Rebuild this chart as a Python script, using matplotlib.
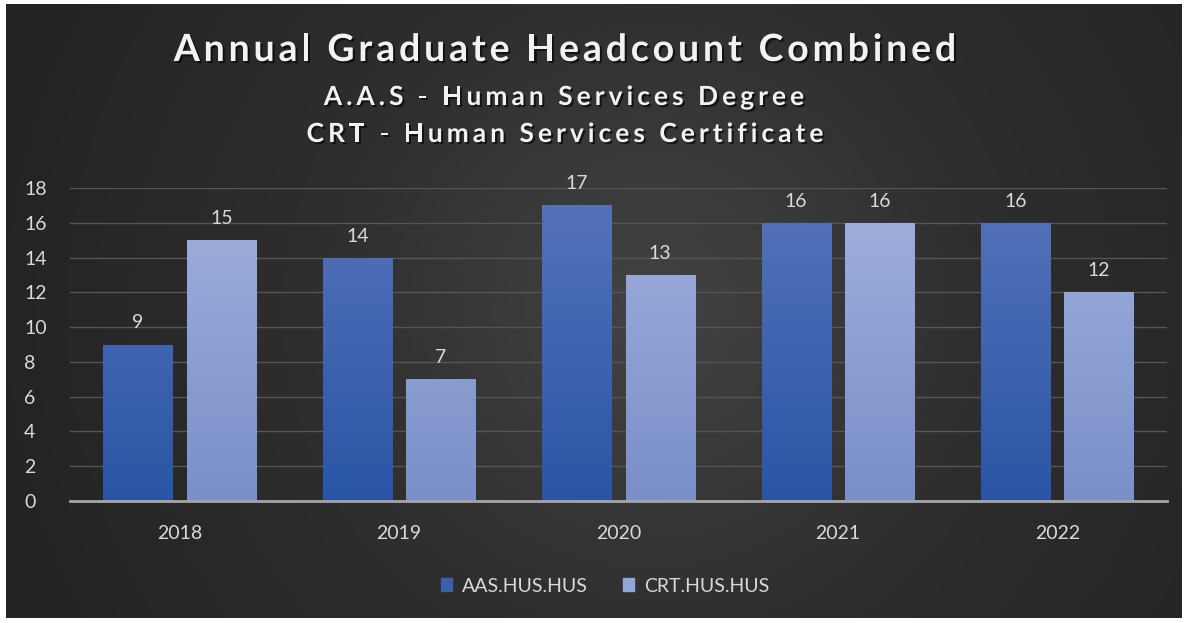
import numpy as np
import matplotlib.pyplot as plt
import matplotlib.patheffects as pe
from matplotlib.colors import LinearSegmentedColormap
from matplotlib.font_manager import FontProperties
from matplotlib.textpath import TextToPath

years = ['2018', '2019', '2020', '2021', '2022']
aas = [9, 14, 17, 16, 16]
crt = [15, 7, 13, 16, 12]
series_names = ['AAS.HUS.HUS', 'CRT.HUS.HUS']

txt = '#d9d9d9'
plt.rcParams['font.family'] = ['Lato', 'DejaVu Sans']

fig = plt.figure(figsize=(11.88, 6.23), dpi=100)
fig.patch.set_facecolor('white')

# radial gradient background
bg = fig.add_axes([6 / 1188, 5 / 623, 1176 / 1188, 614 / 623])
yy, xx = np.mgrid[0:1:300j, 0:1:600j]
d = np.sqrt(((xx - 0.55) * 1.9) ** 2 + ((yy - 0.5) * 1.0) ** 2)
bg_cmap = LinearSegmentedColormap.from_list('bg', ['#434343', '#2e2e2e', '#232323'])
bg.imshow(d, cmap=bg_cmap, aspect='auto', extent=[0, 1, 0, 1], vmin=0, vmax=1.1)
bg.set_axis_off()

ax = fig.add_axes([70 / 1188, 1 - 501 / 623, 1097 / 1188, 313 / 623])
ax.patch.set_alpha(0)

x = np.arange(len(years))
w = 0.315
off = 0.19

def grad_bars(xs, vals, top, bottom):
    cmap = LinearSegmentedColormap.from_list('b', [bottom, top])
    grad = np.linspace(0, 1, 100).reshape(-1, 1)
    bars = ax.bar(xs, vals, w, color='none', zorder=3)
    for b in bars:
        x0 = b.get_x()
        im = ax.imshow(grad, cmap=cmap, aspect='auto', origin='lower',
                       extent=[x0, x0 + b.get_width(), 0, 18], zorder=3)
        im.set_clip_path(b)
    return bars

grad_bars(x - off, aas, '#5673ba', '#2a55a6')
grad_bars(x + off, crt, '#a1b1de', '#7a8fc9')

for xs, vals in [(x - off, aas), (x + off, crt)]:
    for xi, v in zip(xs, vals):
        ax.text(xi, v + 0.75, str(v), ha='center', va='bottom', color=txt, fontsize=14)

ax.set_xlim(-0.5, len(years) - 0.5)
ax.set_ylim(0, 18)
ax.set_yticks(range(0, 19, 2))
ax.set_xticks(x)
ax.set_xticklabels(years)
ax.tick_params(colors=txt, labelsize=14, length=0)
ax.tick_params(axis='x', pad=17)
ax.tick_params(axis='y', pad=33)
for lab in ax.get_yticklabels():
    lab.set_horizontalalignment('left')
ax.grid(axis='y', color='#555555', linewidth=1, zorder=0)
for s in ['top', 'right', 'left']:
    ax.spines[s].set_visible(False)
ax.spines['bottom'].set_color('#a6a6a6')
ax.spines['bottom'].set_linewidth(2)
ax.spines['bottom'].set_zorder(4)

# title lines with letter spacing (tracking in pixels)
ttp = TextToPath()
shadow = [pe.withSimplePatchShadow(offset=(1.5, -1.5), shadow_rgbFace='black', alpha=0.6)]

def spaced_text(xc, yc, s, size, track):
    prop = FontProperties(family='Lato', weight='bold', size=size)
    px = 100 / 72
    pos = [ttp.get_text_width_height_descent(s[:i], prop, ismath=False)[0] * px if i else 0
           for i in range(len(s) + 1)]
    total = pos[-1] + (len(s) - 1) * track
    x0 = xc - total / 2
    for i, ch in enumerate(s):
        if ch == ' ':
            continue
        fig.text((x0 + pos[i] + i * track) / 1188, 1 - yc / 623, ch, ha='left', va='center',
                 color='#f2f2f2', fontproperties=prop, path_effects=shadow)

spaced_text(565, 50, 'Annual Graduate Headcount Combined', 27, 3.8)
spaced_text(564, 97, 'A.A.S - Human Services Degree', 19, 4.0)
spaced_text(565, 134, 'CRT - Human Services Certificate', 19, 4.0)

handles = [plt.Rectangle((0, 0), 1, 1, color='#3b5fad'), plt.Rectangle((0, 0), 1, 1, color='#93a6d9')]
leg = fig.legend(handles, series_names, loc='center', bbox_to_anchor=(605 / 1188, 1 - 586 / 623),
                 ncol=2, frameon=False, fontsize=14, handlelength=0.6, handleheight=0.6,
                 columnspacing=1.8, handletextpad=0.5)
for t in leg.get_texts():
    t.set_color(txt)

fig.savefig('out.png', dpi=100)
